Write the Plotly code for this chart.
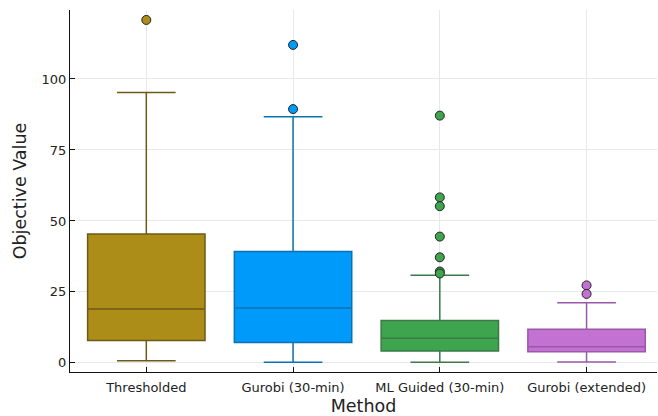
import plotly.graph_objects as go

# Methods compared
methods = ["Thresholded", "Gurobi (30-min)", "ML Guided (30-min)", "Gurobi (extended)"]

# Box statistics per method
lower_fence = [0.8, 0.2, 0.25, 0.35]
q1 = [7.9, 7.2, 4.2, 3.9]
median = [19.0, 19.3, 8.7, 5.7]
q3 = [45.4, 39.2, 14.9, 11.9]
upper_fence = [95.2, 86.7, 30.9, 21.2]

# Outlying runs per method
outliers = [
    [120.8],
    [112.0, 89.4],
    [87.1, 58.3, 55.2, 44.5, 37.2, 32.2, 31.5],
    [27.3, 24.3],
]

fill_colors = ["#AC8D18", "#009AFA", "#3EA44E", "#C371D2"]
line_colors = ["#6E5A18", "#0A72B4", "#3B7A48", "#9A58A8"]

fig = go.Figure()

for i, m in enumerate(methods):
    fig.add_trace(go.Box(
        x=[m],
        q1=[q1[i]], median=[median[i]], q3=[q3[i]],
        lowerfence=[lower_fence[i]], upperfence=[upper_fence[i]],
        boxpoints=False,
        width=0.8,
        fillcolor=fill_colors[i],
        line=dict(color=line_colors[i], width=1.5),
        whiskerwidth=0.5,
        showlegend=False,
        hoverinfo="skip",
    ))

for i, m in enumerate(methods):
    fig.add_trace(go.Scatter(
        x=[m] * len(outliers[i]),
        y=outliers[i],
        mode="markers",
        marker=dict(color=fill_colors[i], size=9,
                    line=dict(color="#222222", width=1)),
        showlegend=False,
        hoverinfo="skip",
    ))

axis_font = dict(family="DejaVu Sans", size=13, color="#222222")

fig.update_layout(
    width=658, height=416,
    margin=dict(l=70, r=1, t=10, b=44),
    paper_bgcolor="white",
    plot_bgcolor="white",
    boxmode="overlay",
    font=dict(family="DejaVu Sans", color="#222222"),
    xaxis=dict(
        title=dict(text="Method", font=dict(family="DejaVu Sans", size=17.5), standoff=6),
        categoryorder="array", categoryarray=methods,
        range=[-0.52, 3.48],
        showgrid=True, gridcolor="#e8e8e8", gridwidth=1,
        showline=True, linecolor="#111111", linewidth=1,
        ticks="inside", ticklen=5, tickcolor="#111111",
        tickfont=axis_font,
        ticklabelstandoff=3,
        automargin=False,
    ),
    yaxis=dict(
        title=dict(text="Objective Value", font=dict(family="DejaVu Sans", size=17.5), standoff=10),
        range=[-3.2, 124.3],
        tickvals=[0, 25, 50, 75, 100],
        showgrid=True, gridcolor="#e8e8e8", gridwidth=1,
        zeroline=False,
        showline=True, linecolor="#111111", linewidth=1,
        ticks="inside", ticklen=5, tickcolor="#111111",
        tickfont=axis_font,
        automargin=False,
    ),
)

fig.write_html("out.html")
